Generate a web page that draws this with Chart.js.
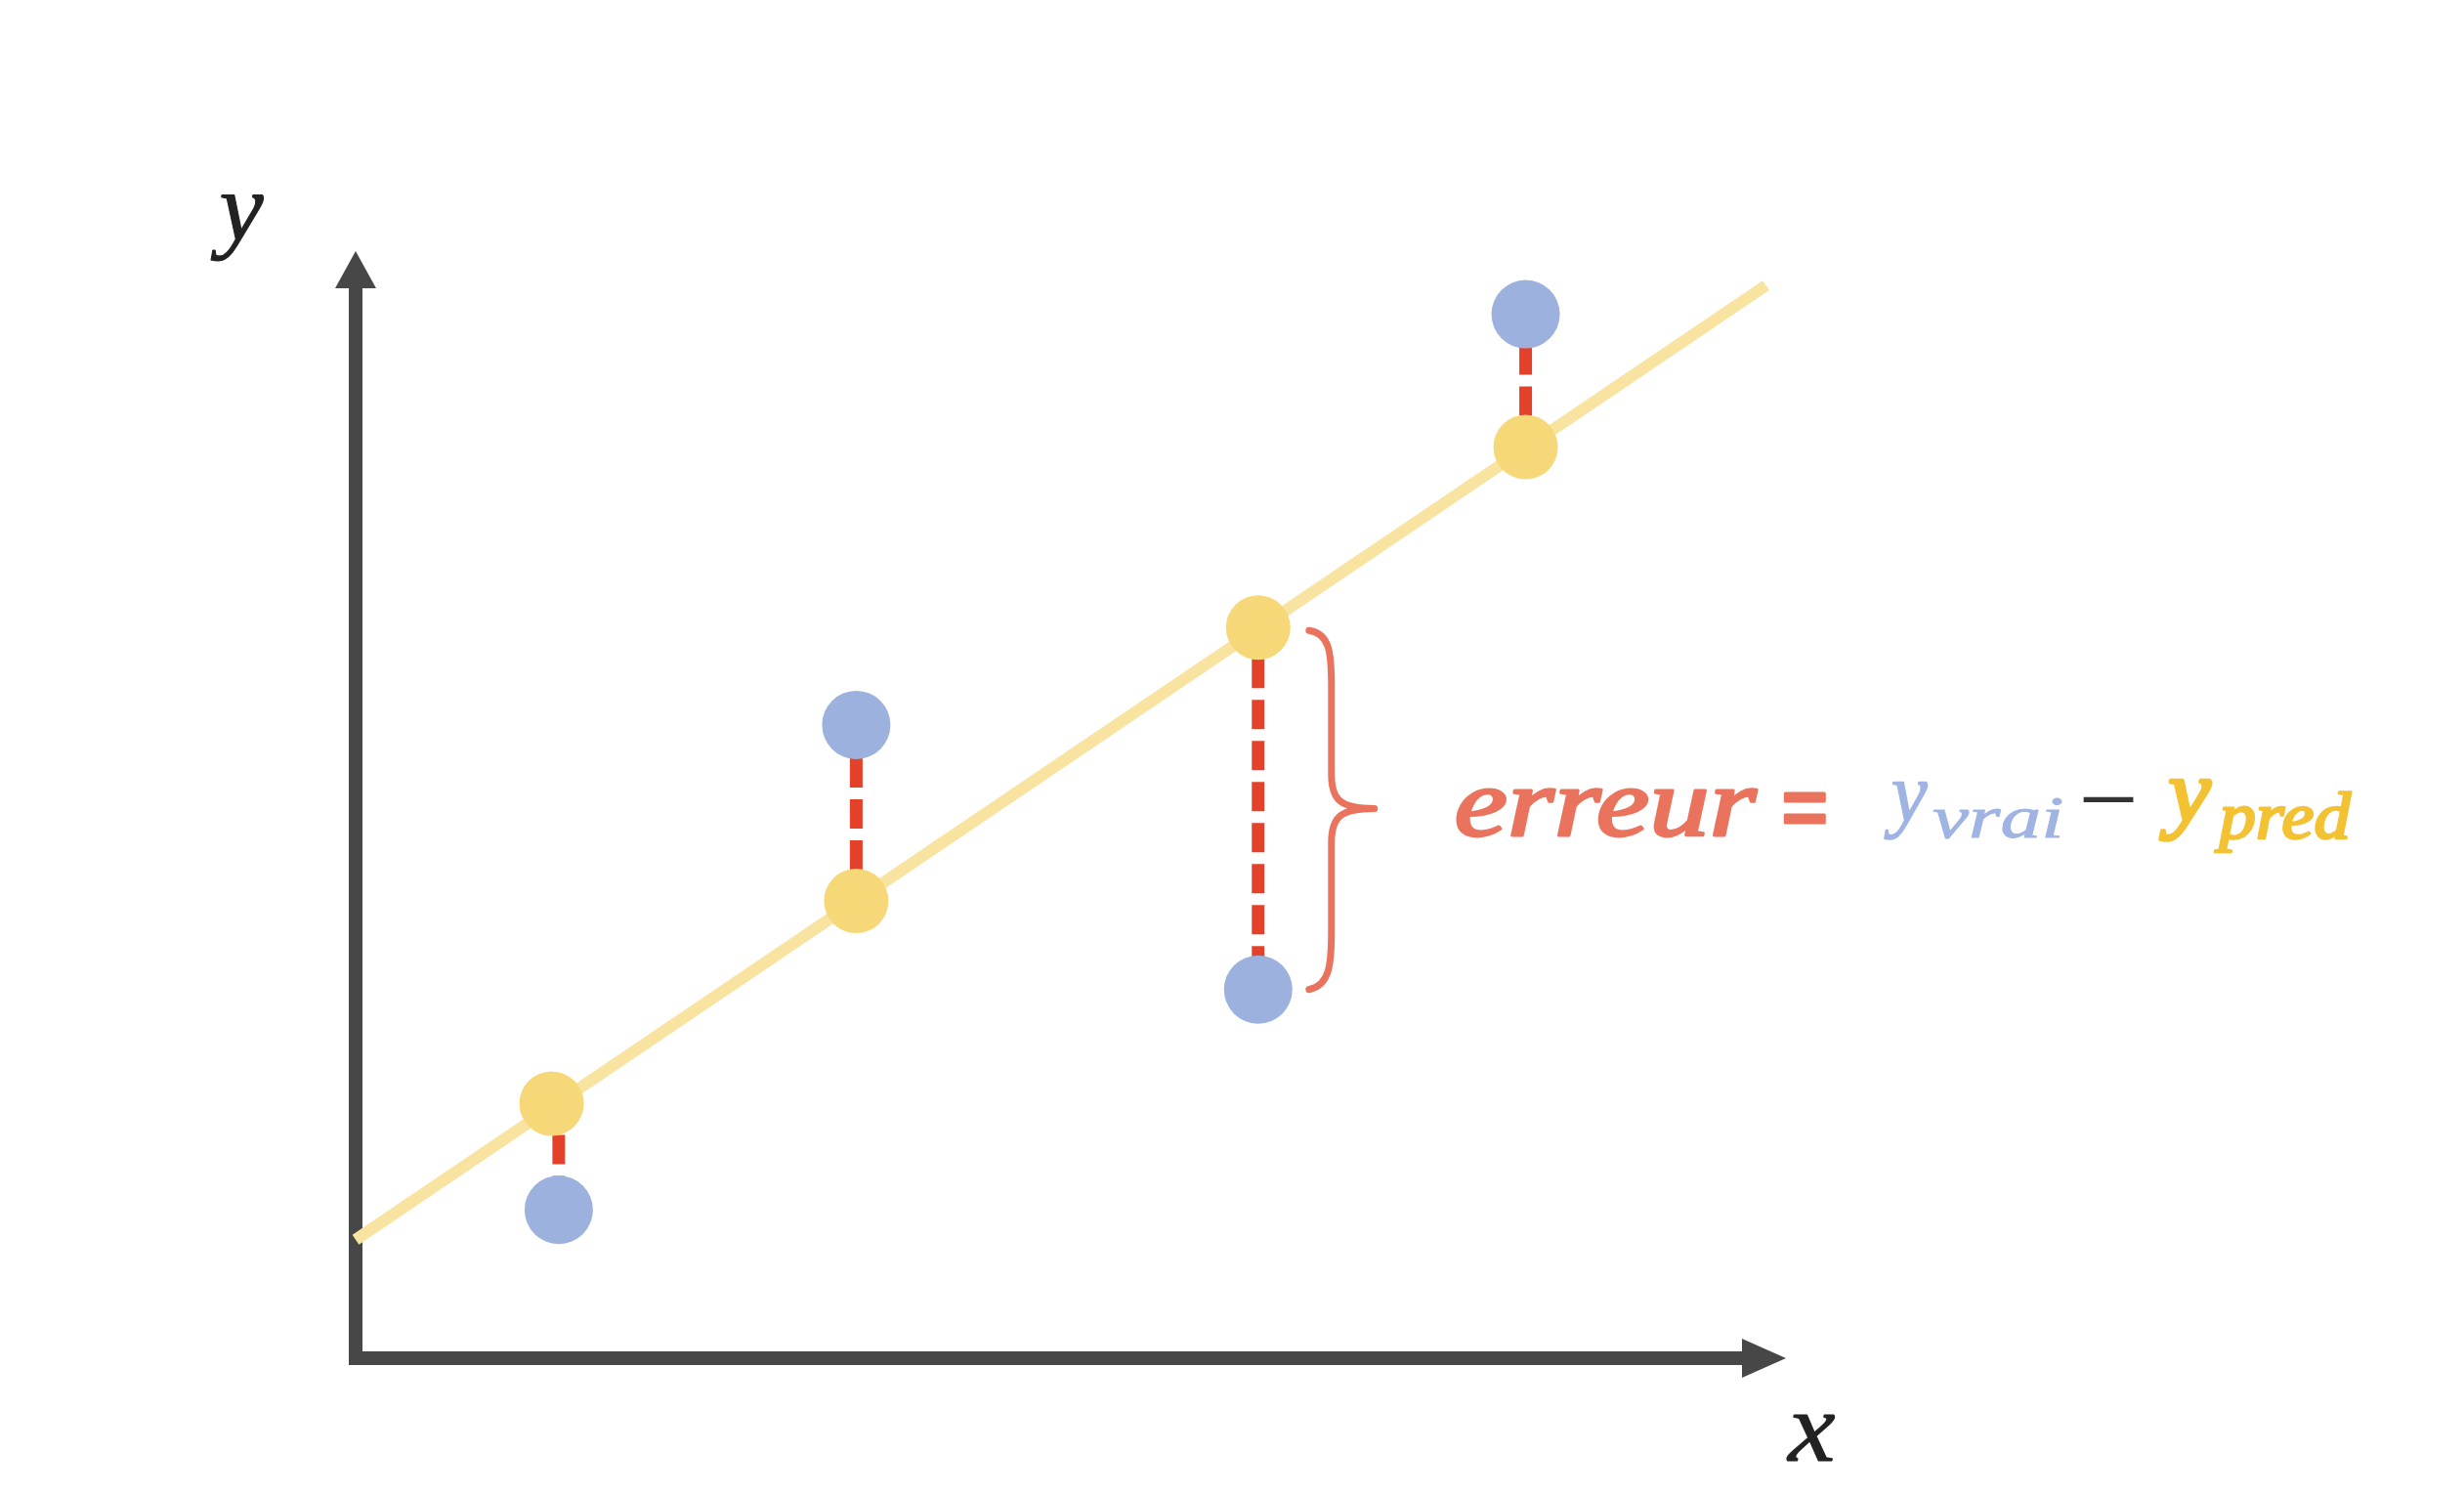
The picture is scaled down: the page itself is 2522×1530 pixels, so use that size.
<!DOCTYPE html>
<html lang="fr">
<head>
<meta charset="utf-8">
<title>Erreur de prédiction</title>
<script src="https://cdn.jsdelivr.net/npm/chart.js@4.4.0/dist/chart.umd.min.js"></script>
<style>
  html, body { margin: 0; padding: 0; background: #fff; }
  #wrap { width: 2522px; height: 1530px; position: relative; }
</style>
</head>
<body>
<div id="wrap"><canvas id="errChart"></canvas></div>
<script>
// points, in axis units (0..10 on both axes)
const xPred = [1.37, 3.5, 6.31, 8.18];
const xTrue = [1.42, 3.5, 6.31, 8.18];
const yTrue = [1.34, 5.72, 3.33, 9.43];
const yPred = [2.3, 4.13, 6.6, 8.23];
// regression line end points
const lineX = [0, 9.86];
const lineY = [1.07, 9.69];
// which residual gets the brace
const braceIdx = 2;

const colors = {
  axis: "#474747",
  line: "#F9E3A1",
  pred: "#F6D878",
  true: "#9CB1DE",
  dash: "#E4412B",
  brace: "#EA735E",
  textTrue: "#9FB4E3",
  textPred: "#F3C233",
  minus: "#333333",
};

const serif = '"Liberation Serif", "DejaVu Serif", serif';

// draw text so its ink fits a given box [x1, x2, top, bottom]
// extra = optional stroke width to thicken the glyphs a little
function drawFit(ctx, text, font, color, box, extra) {
  ctx.save();
  ctx.font = font;
  ctx.textAlign = "left";
  ctx.textBaseline = "alphabetic";
  const m = ctx.measureText(text);
  const inkL = -m.actualBoundingBoxLeft;
  const inkR = m.actualBoundingBoxRight;
  const inkT = -m.actualBoundingBoxAscent;
  const inkB = m.actualBoundingBoxDescent;
  const sx = (box[1] - box[0]) / (inkR - inkL);
  const sy = (box[3] - box[2]) / (inkB - inkT);
  ctx.translate(box[0] - inkL * sx, box[2] - inkT * sy);
  ctx.scale(sx, sy);
  ctx.fillStyle = color;
  ctx.fillText(text, 0, 0);
  if (extra) {
    ctx.strokeStyle = color;
    ctx.lineWidth = extra;
    ctx.lineJoin = "round";
    ctx.strokeText(text, 0, 0);
  }
  ctx.restore();
}

const decorPlugin = {
  id: "decor",
  beforeDatasetsDraw(chart) {
    const { ctx, chartArea } = chart;
    const { left, right, top, bottom } = chartArea;
    const w = 14;
    ctx.save();
    ctx.fillStyle = colors.axis;
    // y axis + arrow
    ctx.fillRect(left - w / 2, top + 36, w, bottom + w / 2 - (top + 36));
    ctx.beginPath();
    ctx.moveTo(left, top);
    ctx.lineTo(left - 21, top + 38);
    ctx.lineTo(left + 21, top + 38);
    ctx.closePath();
    ctx.fill();
    // x axis + arrow
    ctx.fillRect(left - w / 2, bottom - w / 2, right - 44 - (left - w / 2), w);
    ctx.beginPath();
    ctx.moveTo(right, bottom);
    ctx.lineTo(right - 45, bottom - 20);
    ctx.lineTo(right - 45, bottom + 20);
    ctx.closePath();
    ctx.fill();
    ctx.restore();
  },
  afterDatasetsDraw(chart) {
    const { ctx, scales } = chart;
    const xs = scales.x;
    const ys = scales.y;

    // brace next to the big residual
    const bx = xs.getPixelForValue(xTrue[braceIdx]);
    const bTop = ys.getPixelForValue(yPred[braceIdx]);
    const bBot = ys.getPixelForValue(yTrue[braceIdx]);
    const bMid = (bTop + bBot) / 2;
    const x0 = bx + 52;
    const x1 = bx + 75;
    const xt = bx + 119;
    ctx.save();
    ctx.strokeStyle = colors.brace;
    ctx.lineWidth = 7;
    ctx.lineCap = "round";
    ctx.lineJoin = "round";
    ctx.beginPath();
    ctx.moveTo(x0, bTop + 3);
    ctx.bezierCurveTo(x1 - 2, bTop + 6, x1, bTop + 25, x1, bTop + 60);
    ctx.lineTo(x1, bMid - 35);
    ctx.bezierCurveTo(x1, bMid - 8, x1 + 10, bMid, xt, bMid);
    ctx.bezierCurveTo(x1 + 10, bMid, x1, bMid + 8, x1, bMid + 35);
    ctx.lineTo(x1, bBot - 60);
    ctx.bezierCurveTo(x1, bBot - 25, x1 - 2, bBot - 4, x0, bBot);
    ctx.stroke();
    ctx.restore();

    // axis names
    drawFit(ctx, "y", "italic 96px " + serif, "#222", [215, 270, 200, 267], 1);
    drawFit(ctx, "x", "italic 100px " + serif, "#222", [1828, 1878, 1448, 1495], 1);

    // formula
    drawFit(ctx, "erreur", "italic 104px " + serif, colors.brace, [1492, 1798, 807, 856], 3);
    drawFit(ctx, "=", "bold 104px " + serif, colors.brace, [1827, 1868, 813, 843], 3);
    drawFit(ctx, "y", "italic 96px " + serif, colors.textTrue, [1928, 1973, 800, 858], 1.5);
    drawFit(ctx, "vrai", "italic 68px " + serif, colors.textTrue, [1978, 2110, 816, 858], 1);
    drawFit(ctx, "\u2212", "70px " + serif, colors.minus, [2132, 2185, 815, 821]);
    drawFit(ctx, "y", "italic 96px " + serif, colors.textPred, [2210, 2263, 798, 860], 3.5);
    drawFit(ctx, "pred", "italic 68px " + serif, colors.textPred, [2267, 2407, 810, 872], 2.5);
  },
};

const residualSets = xTrue.map((x, i) => ({
  data: [
    { x, y: yPred[i] },
    { x, y: yTrue[i] },
  ],
  showLine: true,
  borderColor: colors.dash,
  borderWidth: 13,
  borderDash: [30, 12],
  borderDashOffset: 10,
  borderCapStyle: "butt",
  pointRadius: 0,
  clip: false,
  order: 8,
}));

const ctx = document.getElementById("errChart");
new Chart(ctx, {
  type: "scatter",
  data: {
    datasets: [
      {
        label: "droite",
        data: lineX.map((x, i) => ({ x, y: lineY[i] })),
        showLine: true,
        borderColor: colors.line,
        borderWidth: 12,
        borderCapStyle: "butt",
        pointRadius: 0,
        clip: false,
        order: 10,
      },
      ...residualSets,
      {
        label: "y vrai",
        data: xTrue.map((x, i) => ({ x, y: yTrue[i] })),
        backgroundColor: colors.true,
        borderWidth: 0,
        pointRadius: 35,
        clip: false,
        order: 3,
      },
      {
        label: "y pred",
        data: xPred.map((x, i) => ({ x, y: yPred[i] })),
        backgroundColor: colors.pred,
        borderWidth: 0,
        pointRadius: 33,
        clip: false,
        order: 2,
      },
    ],
  },
  options: {
    responsive: true,
    maintainAspectRatio: false,
    devicePixelRatio: 1,
    animation: false,
    events: [],
    layout: {
      autoPadding: false,
      padding: { left: 364, right: 694, top: 257, bottom: 140 },
    },
    plugins: {
      legend: { display: false },
      tooltip: { enabled: false },
    },
    scales: {
      x: { type: "linear", min: 0, max: 10, display: false },
      y: { type: "linear", min: 0, max: 10, display: false },
    },
  },
  plugins: [decorPlugin],
});
</script>
</body>
</html>
